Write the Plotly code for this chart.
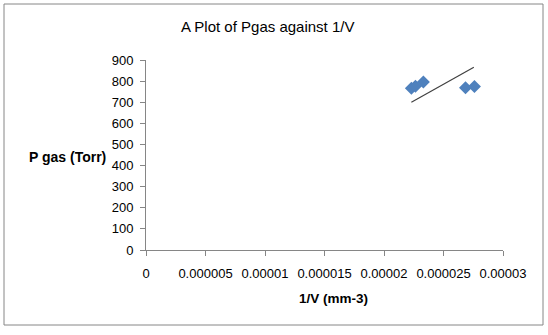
import plotly.graph_objects as go

# Data
inv_v = [2.23e-5, 2.264e-5, 2.331e-5, 2.685e-5, 2.76e-5]
p_gas = [766, 776, 796, 768, 775]

# Trendline endpoints as drawn in the reference
trend_x = [2.23e-5, 2.755e-5]
trend_y = [700, 866]

x_tickvals = [0, 0.000005, 0.00001, 0.000015, 0.00002, 0.000025, 0.00003]
x_ticktext = ["0", "0.000005", "0.00001", "0.000015", "0.00002", "0.000025", "0.00003"]
y_tickvals = [0, 100, 200, 300, 400, 500, 600, 700, 800, 900]

FONT = "Liberation Sans"
W, H = 548, 335
L, R, T, B = 146, 45, 60, 85
pw, ph = W - L - R, H - T - B

def px2paper(x, y):
    return (x - L) / pw, (H - B - y) / ph

fig = go.Figure()
fig.add_trace(go.Scatter(
    x=inv_v, y=p_gas, mode="markers",
    marker=dict(symbol="diamond", size=10, color="#4F81BD"),
    showlegend=False, hoverinfo="x+y"))
fig.add_trace(go.Scatter(
    x=trend_x, y=trend_y, mode="lines",
    line=dict(color="#404040", width=1.2),
    showlegend=False))

x0, y0 = px2paper(4, 4)
x1, y1 = px2paper(543, 325)
fig.add_shape(type="rect", xref="paper", yref="paper",
              x0=x0, y0=y1, x1=x1, y1=y0,
              line=dict(color="#868686", width=1))

tx, ty = px2paper(267, 27)
fig.add_annotation(text="A Plot of Pgas against 1/V", xref="paper", yref="paper",
                   x=tx, y=ty, showarrow=False, xanchor="center", yanchor="middle",
                   font=dict(family=FONT, size=15, color="#000000"))
ax, ay = px2paper(67, 157)
fig.add_annotation(text="<b>P gas (Torr)</b>", xref="paper", yref="paper",
                   x=ax, y=ay, showarrow=False, xanchor="center", yanchor="middle",
                   font=dict(family=FONT, size=14, color="#000000"))
bx, by = px2paper(333, 298)
fig.add_annotation(text="<b>1/V (mm-3)</b>", xref="paper", yref="paper",
                   x=bx, y=by, showarrow=False, xanchor="center", yanchor="middle",
                   font=dict(family=FONT, size=13.5, color="#000000"))

fig.update_xaxes(range=[0, 0.00003], tickvals=x_tickvals, ticktext=x_ticktext,
                 showgrid=False, zeroline=False, showline=True, linecolor="#868686",
                 linewidth=1, ticks="outside", ticklen=5, tickcolor="#868686",
                 tickfont=dict(family=FONT, size=13, color="#000000"),
                 ticklabelstandoff=6)
fig.update_yaxes(range=[0, 900], tickvals=y_tickvals,
                 showgrid=False, zeroline=False, showline=True, linecolor="#868686",
                 linewidth=1, ticks="outside", ticklen=5, tickcolor="#868686",
                 tickfont=dict(family=FONT, size=13, color="#000000"),
                 ticklabelstandoff=4)

fig.update_layout(width=W, height=H, margin=dict(l=L, r=R, t=T, b=B),
                  paper_bgcolor="white", plot_bgcolor="white",
                  font=dict(family=FONT))

fig.write_html("out.html")
